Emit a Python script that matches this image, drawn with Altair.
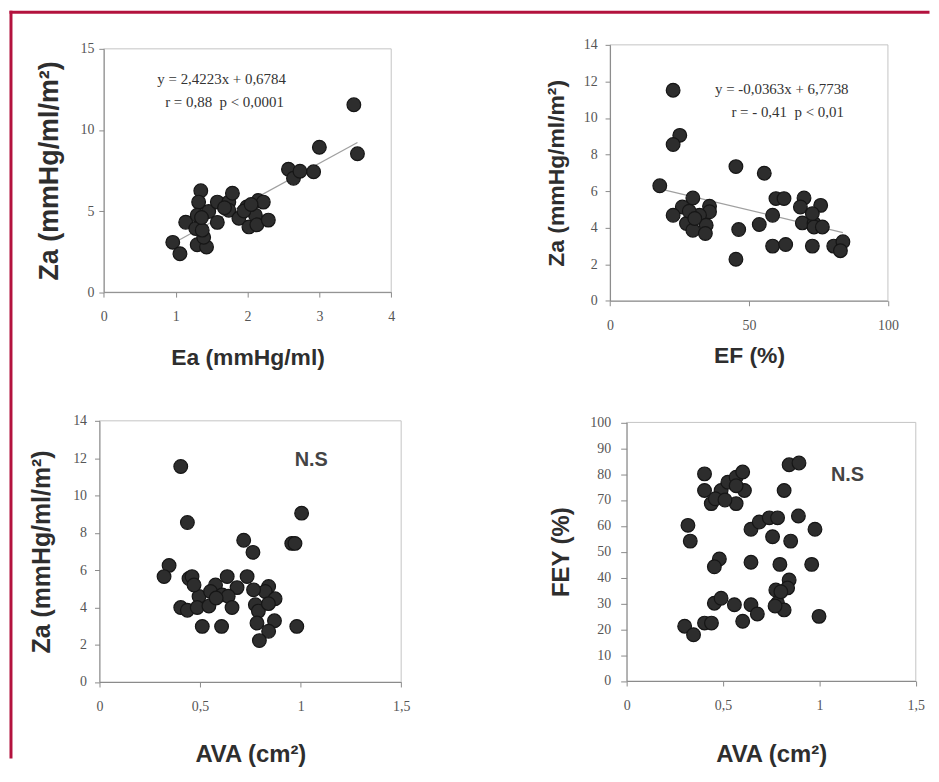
import altair as alt
import pandas as pd

# ---------------- data ----------------
# Panel A : Za vs Ea
ea_x = [0.96, 1.06, 1.30, 1.43, 1.39, 1.14, 1.28, 1.37, 1.35, 1.32, 1.30, 1.46,
        1.58, 1.58, 1.74, 1.79, 1.74, 1.88, 1.99, 2.02, 2.11, 2.15, 2.22, 2.13,
        2.29, 2.57, 2.64, 2.73, 2.92, 3.00, 3.48, 3.53, 1.36, 1.68, 1.95, 2.05]
ea_za = [3.07, 2.37, 2.92, 2.78, 3.38, 4.31, 3.92, 3.82, 6.25, 5.55, 4.74, 4.97,
         5.55, 4.30, 5.55, 6.10, 5.05, 4.55, 5.25, 4.02, 4.74, 5.65, 5.55, 4.15,
         4.44, 7.58, 7.02, 7.45, 7.42, 8.93, 11.55, 8.53, 4.60, 5.20, 5.00, 5.40]

# Panel B : Za vs EF
ef_x = [22.7, 25.1, 22.7, 45.3, 55.5, 17.9, 29.8, 59.7, 62.6, 69.8, 75.8, 26.0,
        35.8, 68.5, 35.8, 22.7, 32.2, 58.5, 27.5, 34.6, 53.7, 69.2, 73.4, 73.4,
        76.4, 72.8, 29.8, 34.3, 46.3, 58.5, 63.2, 72.8, 80.5, 83.8, 82.9, 45.3,
        28.5, 30.5]
ef_za = [11.52, 9.05, 8.55, 7.34, 6.98, 6.29, 5.62, 5.59, 5.59, 5.62, 5.22, 5.13,
         5.17, 5.13, 4.87, 4.68, 4.68, 4.68, 4.23, 4.13, 4.17, 4.26, 4.23, 4.04,
         4.04, 4.77, 3.86, 3.68, 3.90, 2.99, 3.08, 2.99, 2.99, 3.23, 2.74, 2.27,
         4.90, 4.50]

# Panel C : Za vs AVA
avc_x = [0.404, 0.437, 1.005, 0.956, 0.972, 0.717, 0.763, 0.346, 0.321, 0.445,
         0.460, 0.635, 0.734, 0.577, 0.684, 0.841, 0.824, 0.766, 0.495, 0.552,
         0.610, 0.640, 0.873, 0.775, 0.404, 0.437, 0.486, 0.544, 0.659, 0.790,
         0.840, 0.511, 0.607, 0.783, 0.870, 0.841, 0.795, 0.981, 0.470, 0.580]
avc_za = [11.55, 8.55, 9.05, 7.43, 7.43, 7.60, 6.95, 6.25, 5.65, 5.55,
          5.65, 5.65, 5.65, 5.20, 5.06, 5.12, 4.85, 4.94, 4.58, 4.85,
          4.67, 4.60, 4.46, 4.14, 3.99, 3.85, 3.99, 4.07, 3.99, 3.80,
          4.20, 2.98, 2.98, 3.16, 3.28, 2.72, 2.22, 2.98, 5.20, 4.50]

# Panel D : FEY vs AVA
avd_x = [0.404, 0.404, 0.439, 0.490, 0.460, 0.525, 0.568, 0.602, 0.611, 0.568,
         0.510, 0.568, 0.843, 0.894, 0.817, 0.318, 0.330, 0.645, 0.688, 0.740,
         0.783, 0.891, 0.757, 0.851, 0.977, 0.481, 0.455, 0.645, 0.795, 0.960,
         0.843, 0.835, 0.774, 0.783, 0.817, 0.770, 0.455, 0.490, 0.559, 0.645,
         0.678, 0.602, 0.998, 0.301, 0.404, 0.440, 0.347, 0.800]
fey = [80.1, 73.7, 68.6, 73.7, 70.5, 76.9, 78.8, 80.8, 73.7, 68.6,
       70.0, 75.5, 83.6, 84.3, 73.7, 60.2, 54.1, 58.7, 61.5, 63.1,
       63.1, 63.8, 55.8, 54.1, 58.7, 47.2, 44.2, 45.9, 45.1, 45.1,
       39.1, 36.0, 35.2, 30.1, 27.5, 29.0, 30.1, 32.0, 29.5, 29.5,
       25.9, 23.1, 25.0, 21.2, 22.4, 22.4, 17.9, 34.5]

# regression equations printed on the figure (slope, intercept)
reg_a = (2.4223, 0.6784)
reg_b = (-0.0363, 6.7738)

# annotation texts with their positions in data units
ann_a = {"t": ["y = 2,4223x + 0,6784", "r = 0,88\u00a0\u00a0p < 0,0001"], "x": [1.64, 1.68], "y": [13.13, 11.69]}
ann_b = {"t": ["y = -0,0363x + 6,7738", "r = - 0,41\u00a0\u00a0p < 0,01"], "x": [61.8, 63.9], "y": [11.57, 10.3]}
ann_c = {"t": ["N.S"], "x": [1.053], "y": [11.9]}
ann_d = {"t": ["N.S"], "x": [1.146], "y": [79.7]}

ZA = "Za (mmHg/ml/m\u00b2)"
AVA = "AVA (cm\u00b2)"

FRAME = "#b3123e"
DOT_FILL = "#2d2d2d"
DOT_STROKE = "#161616"

# ---------------- layout (pixel boxes of the four plot areas) ----------------
VIEW_W, VIEW_H = 821, 641
box_a = dict(x=[4.3, 293.3], y=[248.6, 4.0])
box_b = dict(x=[513.3, 792.7], y=[257.3, 0.0])
box_c = dict(x=[0.0, 303.3], y=[640.6, 378.0])
box_d = dict(x=[530.0, 820.7], y=[639.6, 379.6])


def panel(xs, ys, xdom, ydom, box, xvals, yvals, xtitle, ytitle,
          xts, yts, xtp, ytp, ylp, ytick, ann, ann_style, comma=False, reg=None):
    df = pd.DataFrame({"x": xs, "y": ys})
    xax = dict(orient="bottom", offset=box["y"][0] - VIEW_H, values=xvals, title=xtitle,
               titleFontSize=xts, titlePadding=xtp, labelPadding=13, tickSize=5,
               labelFlush=False, zindex=2)
    if comma:
        xax["labelExpr"] = "replace(format(datum.value, '~g'), '.', ',')"
    xenc = alt.X("x:Q", scale=alt.Scale(domain=xdom, range=box["x"], nice=False, zero=False),
                 axis=alt.Axis(**xax))
    yenc = alt.Y("y:Q", scale=alt.Scale(domain=ydom, range=box["y"], nice=False, zero=False),
                 axis=alt.Axis(orient="left", offset=-box["x"][0], values=yvals, title=ytitle,
                               titleFontSize=yts, titlePadding=ytp, labelPadding=ylp,
                               tickSize=ytick, labelFlush=False, zindex=2))
    layers = []
    fdf = pd.DataFrame({"x": [xdom[0]], "x2": [xdom[1]], "y": [ydom[0]], "y2": [ydom[1]]})
    layers.append(alt.Chart(fdf).mark_rect(filled=False, color="#c4c4c4", strokeWidth=1)
                  .encode(x=xenc, x2=alt.X2("x2"), y=yenc, y2=alt.Y2("y2")))
    if reg is not None:
        lx = [min(xs), max(xs)]
        ldf = pd.DataFrame({"x": lx, "y": [reg[0] * v + reg[1] for v in lx]})
        layers.append(alt.Chart(ldf).mark_line(color="#a0a0a0", strokeWidth=1.2)
                      .encode(x=xenc, y=yenc))
    layers.append(alt.Chart(df).mark_circle(size=190, fill=DOT_FILL, stroke=DOT_STROKE,
                                            strokeWidth=1.2, opacity=1)
                  .encode(x=xenc, y=yenc))
    adf = pd.DataFrame(ann)
    layers.append(alt.Chart(adf).mark_text(align="center", baseline="middle", **ann_style)
                  .encode(x=xenc, y=yenc, text="t:N"))
    return alt.layer(*layers)


serif_ann = dict(font="Liberation Serif", fontSize=15, color="#333333")
ns_ann = dict(font="Liberation Sans", fontSize=20, fontWeight="bold", color="#444444")

pA = panel(ea_x, ea_za, [0, 4], [0, 15], box_a, [0, 1, 2, 3, 4], [0, 5, 10, 15],
           "Ea (mmHg/ml)", ZA, 23, 27, 23, 17, 5, 5, ann_a, serif_ann, reg=reg_a)
pB = panel(ef_x, ef_za, [0, 100], [0, 14], box_b, [0, 50, 100], list(range(0, 15, 2)),
           "EF (%)", ZA, 23, 23, 12, 15, 8, 5, ann_b, serif_ann, reg=reg_b)
pC = panel(avc_x, avc_za, [0, 1.5], [0, 14], box_c, [0, 0.5, 1, 1.5], list(range(0, 15, 2)),
           AVA, ZA, 24, 25, 29, 18, 8, 5, ann_c, ns_ann, comma=True)
pD = panel(avd_x, fey, [0, 1.5], [0, 100], box_d, [0, 0.5, 1, 1.5], list(range(0, 101, 10)),
           AVA, "FEY (%)", 24, 24, 30, 16, 10, 6, ann_d, ns_ann, comma=True)

# outer frame of the figure (decoration, pixel positions)
one = pd.DataFrame({"k": [0]})
frame_top = alt.Chart(one).mark_rule(color=FRAME, strokeWidth=3, strokeCap="square").encode(
    x=alt.value(-89), x2=alt.value(833), y=alt.value(-32.7))
frame_left = alt.Chart(one).mark_rule(color=FRAME, strokeWidth=3, strokeCap="square").encode(
    x=alt.value(-89), y=alt.value(-32.7), y2=alt.value(716))

chart = alt.layer(pA, pB, pC, pD, frame_top, frame_left).resolve_scale(
    x="independent", y="independent"
).resolve_axis(
    x="independent", y="independent"
).properties(
    width=VIEW_W, height=VIEW_H,
    padding={"left": 0, "top": 0, "right": 0, "bottom": 0},
    background="white",
).configure_view(
    stroke=None
).configure_axis(
    grid=False,
    labelFont="Liberation Serif", labelFontSize=14, labelColor="#555555",
    tickColor="#8a8a8a", domainColor="#8a8a8a", tickWidth=1, domainWidth=1,
    titleFont="Liberation Sans", titleFontWeight="bold", titleColor="#2e2e2e",
)

chart.save("out.html", embed_options={"renderer": "svg", "actions": False})
